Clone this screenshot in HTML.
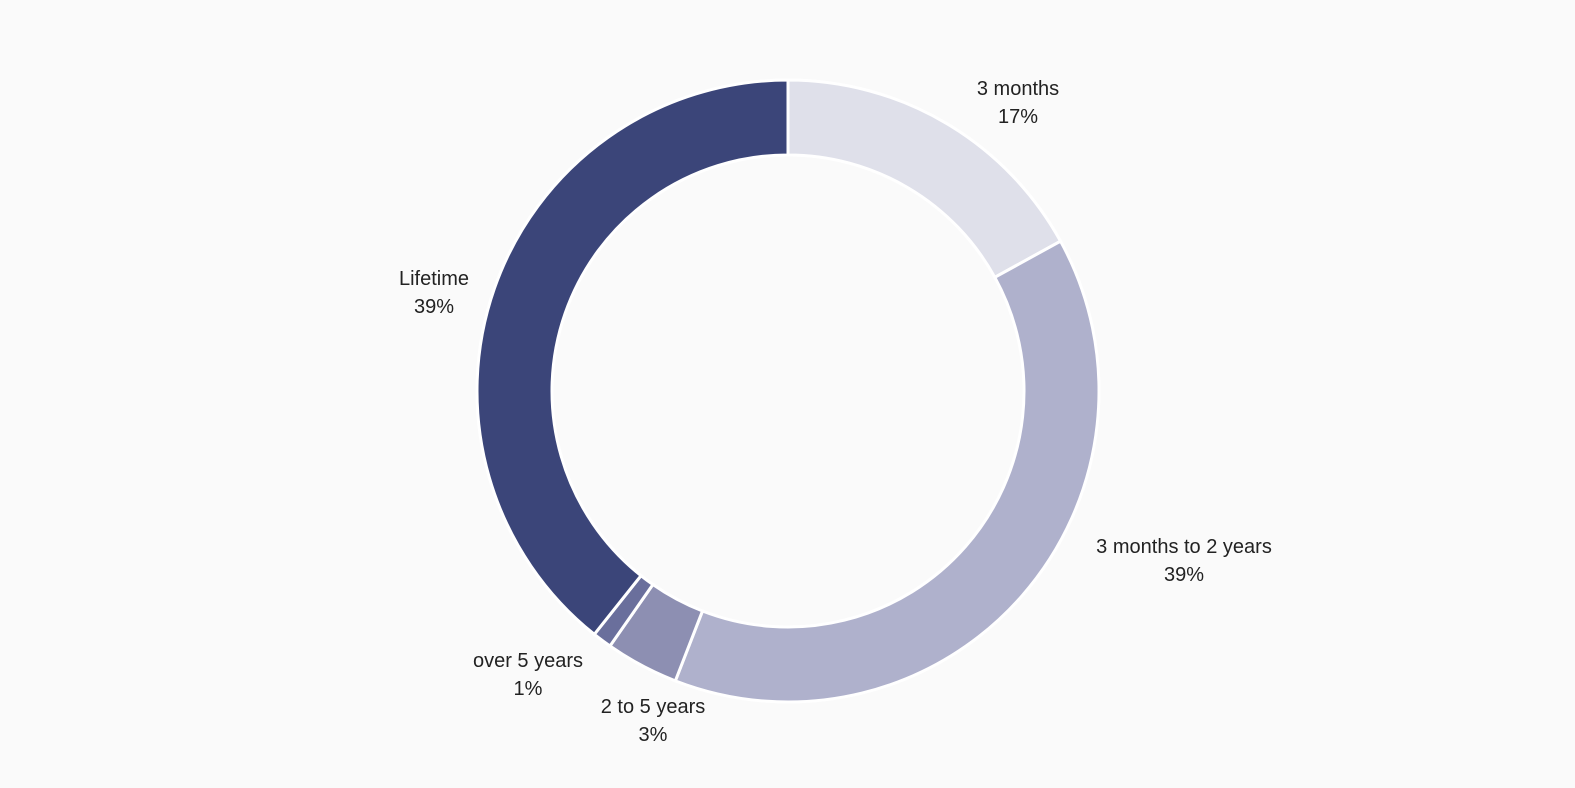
<!DOCTYPE html>
<html><head><meta charset="utf-8"><style>
html,body{margin:0;padding:0;background:#fafafa;}
svg{display:block;font-family:"Liberation Sans",Arial,sans-serif;}
text{font-size:20px;fill:#222;}
</style></head><body>
<svg id="chart" width="1575" height="788" viewBox="0 0 1575 788">
<rect width="1575" height="788" fill="#fafafa"/>
<g id="slices"></g>
<g id="labels"></g>
</svg>
<script>
const categories = ["3 months", "3 months to 2 years", "2 to 5 years", "over 5 years", "Lifetime"];
const values = [17, 38.9, 3.8, 1, 39.3];
const pctLabels = ["17%", "39%", "3%", "1%", "39%"];
const colors = ["#dfe0ea", "#afb1cc", "#8d8fb2", "#6a6f9c", "#3b4579"];
const labelPos = [[1018,88],[1184,546],[653,706],[528,660],[434,278]];
const cx = 788, cy = 391, R = 311, r = 236;
const total = values.reduce((a,b)=>a+b,0);
const NS = "http://www.w3.org/2000/svg";
function pt(a, rad){ return [cx + rad*Math.sin(a), cy - rad*Math.cos(a)]; }
let start = 0;
const gs = document.getElementById("slices"), gl = document.getElementById("labels");
values.forEach((v,i)=>{
  const end = start + v/total*2*Math.PI;
  const large = (end-start) > Math.PI ? 1 : 0;
  const [x1,y1]=pt(start,R),[x2,y2]=pt(end,R),[x3,y3]=pt(end,r),[x4,y4]=pt(start,r);
  const p = document.createElementNS(NS,"path");
  p.setAttribute("d",`M${x1},${y1}A${R},${R} 0 ${large} 1 ${x2},${y2}L${x3},${y3}A${r},${r} 0 ${large} 0 ${x4},${y4}Z`);
  p.setAttribute("fill",colors[i]);
  p.setAttribute("stroke","#ffffff");
  p.setAttribute("stroke-width","3");
  
  
  gs.appendChild(p);
  const t = document.createElementNS(NS,"text");
  t.setAttribute("x",labelPos[i][0]);
  t.setAttribute("y",labelPos[i][1]+7);
  t.setAttribute("text-anchor","middle");
  
  
  const s1 = document.createElementNS(NS,"tspan");
  s1.setAttribute("x",labelPos[i][0]); s1.textContent = categories[i];
  const s2 = document.createElementNS(NS,"tspan");
  s2.setAttribute("x",labelPos[i][0]); s2.setAttribute("dy","28"); s2.textContent = pctLabels[i];
  t.appendChild(s1); t.appendChild(s2);
  gl.appendChild(t);
  start = end;
});
</script>
</body></html>
